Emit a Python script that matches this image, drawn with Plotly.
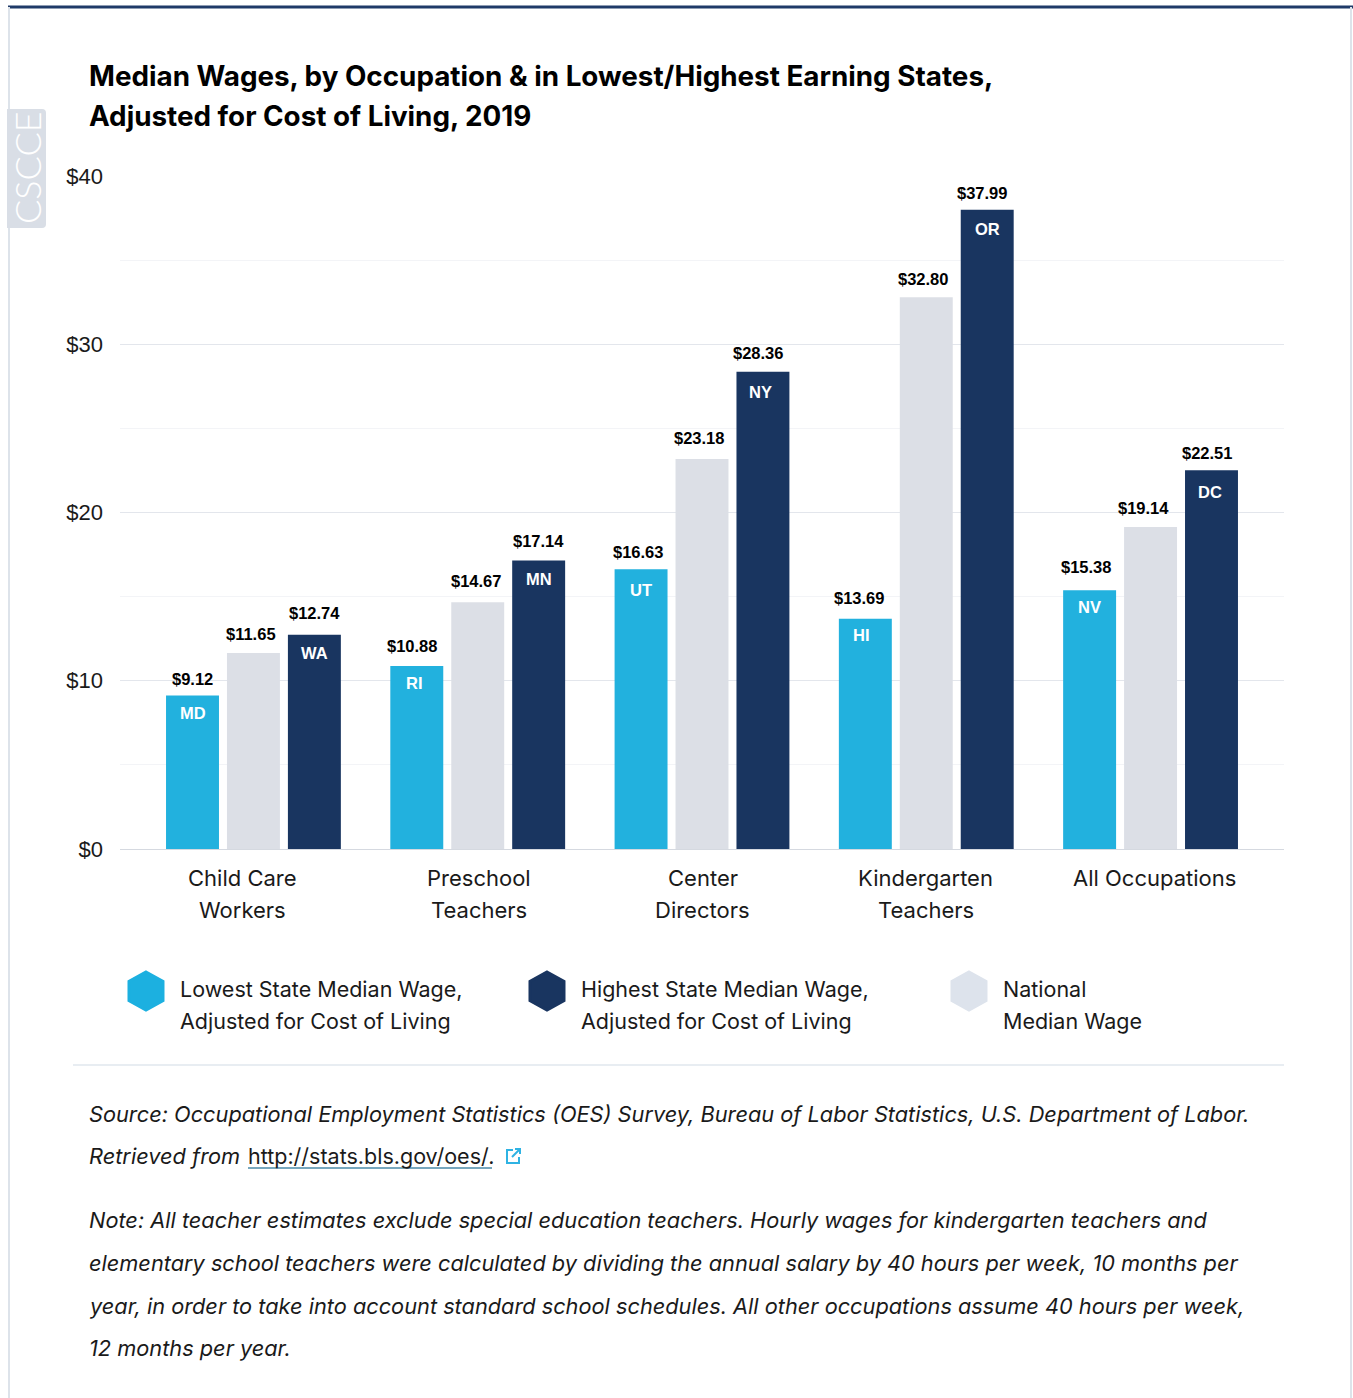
import plotly.graph_objects as go

W, H = 1353, 1398

# data
categories = ["Child Care<br>Workers", "Preschool<br>Teachers", "Center<br>Directors",
              "Kindergarten<br>Teachers", "All Occupations"]
lowest = [9.12, 10.88, 16.63, 13.69, 15.38]
national = [11.65, 14.67, 23.18, 32.80, 19.14]
highest = [12.74, 17.14, 28.36, 37.99, 22.51]
lowest_states = ["MD", "RI", "UT", "HI", "NV"]
highest_states = ["WA", "MN", "NY", "OR", "DC"]
y_ticks = [0, 10, 20, 30, 40]
y_tick_labels = ["$0", "$10", "$20", "$30", "$40"]

TITLE = ["Median Wages, by Occupation & in Lowest/Highest Earning States,",
         "Adjusted for Cost of Living, 2019"]
SOURCE = ["Source: Occupational Employment Statistics (OES) Survey, Bureau of Labor Statistics, U.S. Department of Labor.",
          "Retrieved from"]
NOTE = ["Note: All teacher estimates exclude special education teachers. Hourly wages for kindergarten teachers and",
        "elementary school teachers were calculated by dividing the annual salary by 40 hours per week, 10 months per",
        "year, in order to take into account standard school schedules. All other occupations assume 40 hours per week,",
        "12 months per year."]

CYAN, NAVY, GREY = "#22b1de", "#193560", "#dcdfe6"
TEXT_FONT = "Inter"
NUM_FONT = "Liberation Sans"

# hand nudges (px) so labels sit where the original's do
lowest_dx = [0, -4.5, -3.5, -6.5, -3.5]
national_dx = [-2.5, -2, -3.5, -3, -7]
highest_dx = [0, 0, -5, -5.5, -4.5]
lowest_dy = [17, 20, 17, 21, 23]
national_dy = [19, 21, 21, 18, 19]
highest_dy = [22, 20, 19, 17, 17]
low_state_dx = [0, -2, 0, -3.5, 0]
low_state_dy = [17, 17, 21, 16, 17]
high_state_dx = [0, 0, -2.5, 0, -1.5]
high_state_dy = [18, 18, 20, 19, 22]
cat_dx = [-11, 1, 0.5, -0.5, 3.5]

# plot area in page pixels
PLOT_L, PLOT_R, PLOT_T, PLOT_B = 120, 1284, 176, 849
SLOT = 61 / 224.5  # distance between neighbouring bars, in category units


def px(x):
    return x / W


def py(y):
    return 1 - y / H


def page_text(x, y, text, size, color="#1a1a1a", family=TEXT_FONT, weight="normal", style="normal", **kw):
    return dict(xref="paper", yref="paper", x=px(x), y=py(y), text=text, showarrow=False,
                xanchor=kw.pop("xanchor", "left"), yanchor="middle", borderpad=0, borderwidth=0,
                font=dict(family=family, size=size, color=color, weight=weight, style=style), **kw)


def hexagon(cx, cy, color):
    rx, ry = 17, 19
    pts = [(cx, cy - ry), (cx + rx, cy - ry / 2), (cx + rx, cy + ry / 2),
           (cx, cy + ry), (cx - rx, cy + ry / 2), (cx - rx, cy - ry / 2)]
    path = "M " + " L ".join(f"{px(a):.5f},{py(b):.5f}" for a, b in pts) + " Z"
    return dict(type="path", xref="paper", yref="paper", path=path, fillcolor=color,
                line=dict(color=color, width=3), layer="above")


def page_line(x0, y0, x1, y1, color, width):
    return dict(type="line", xref="paper", yref="paper", x0=px(x0), y0=py(y0), x1=px(x1), y1=py(y1),
                line=dict(color=color, width=width))


def side_tab(x0, y0, x1, y1, r, color):
    p = lambda a, b: f"{px(a):.5f},{py(b):.5f}"
    path = (f"M {p(x0, y0)} L {p(x1 - r, y0)} Q {p(x1, y0)} {p(x1, y0 + r)} "
            f"L {p(x1, y1 - r)} Q {p(x1, y1)} {p(x1 - r, y1)} L {p(x0, y1)} Z")
    return dict(type="path", xref="paper", yref="paper", path=path, fillcolor=color, line_width=0)


fig = go.Figure()
xs = list(range(len(categories)))
for name, vals, color in [("Lowest", lowest, CYAN), ("National", national, GREY), ("Highest", highest, NAVY)]:
    fig.add_trace(go.Bar(x=xs, y=vals, name=name, marker=dict(color=color, line_width=0),
                         hovertemplate="$%{y:.2f}<extra>" + name + "</extra>"))

annotations = []

# value labels above the bars, state codes inside them
for series, offset, dxs, dys in [(lowest, -SLOT, lowest_dx, lowest_dy),
                                 (national, 0, national_dx, national_dy),
                                 (highest, SLOT, highest_dx, highest_dy)]:
    for i, v in enumerate(series):
        annotations.append(dict(x=i + offset, y=v, text=f"${v:.2f}", showarrow=False, xanchor="center",
                                yanchor="middle", xshift=dxs[i], yshift=dys[i],
                                font=dict(family=NUM_FONT, size=16.5, color="#000000", weight="bold")))
for series, states, offset, dxs, dys in [(lowest, lowest_states, -SLOT, low_state_dx, low_state_dy),
                                         (highest, highest_states, SLOT, high_state_dx, high_state_dy)]:
    for i, v in enumerate(series):
        annotations.append(dict(x=i + offset, y=v, text=states[i], showarrow=False, xanchor="center",
                                yanchor="middle", xshift=dxs[i], yshift=-dys[i],
                                font=dict(family=NUM_FONT, size=16.5, color="#ffffff", weight="bold")))

# category labels, one annotation per line to get the original line spacing
for i, cat in enumerate(categories):
    for line, y in zip(cat.split("<br>"), [878, 910]):
        annotations.append(dict(x=i, xref="x", yref="paper", y=py(y), text=line, showarrow=False, xanchor="center",
                                yanchor="middle", xshift=cat_dx[i],
                                font=dict(family=TEXT_FONT, size=22, color="#1a1a1a")))

# title
annotations.append(page_text(89, 76, TITLE[0], 27.8, "#000000", weight="bold"))
annotations.append(page_text(89, 116, TITLE[1], 27.8, "#000000", weight="bold"))

# legend
for x, a, b in [(180, "Lowest State Median Wage,", "Adjusted for Cost of Living"),
                (581, "Highest State Median Wage,", "Adjusted for Cost of Living"),
                (1003, "National", "Median Wage")]:
    annotations.append(page_text(x, 989, a, 21.5))
    annotations.append(page_text(x, 1021, b, 21.5))

# source and note
annotations.append(page_text(89, 1114, SOURCE[0], 21.75, style="italic"))
annotations.append(page_text(89, 1156, SOURCE[1], 21.75, style="italic"))
annotations.append(page_text(248, 1156, "http://stats.bls.gov/oes/", 21.5))
annotations.append(page_text(489, 1156, ".", 21.75, style="italic"))
for y, line in zip([1220, 1263, 1306, 1348], NOTE):
    annotations.append(page_text(89, y, line, 21.75, style="italic"))

# CSCCE side tab
annotations.append(dict(xref="paper", yref="paper", x=px(27), y=py(168), text="CSCCE", showarrow=False,
                        textangle=-90, xanchor="center", yanchor="middle",
                        font=dict(family="Lato", size=36, color="#ffffff", weight=300)))

shapes = [
    page_line(8, 7, W, 7, "#1f3a68", 3),
    page_line(9, 7, 9, H, "#dde3ea", 2),
    page_line(1351, 7, 1351, H, "#dde3ea", 2),
    side_tab(7, 109, 46, 228, 4, "#d9dee6"),
    hexagon(146, 991, "#1cb0e0"),
    hexagon(547, 991, NAVY),
    hexagon(969, 991, "#dde3ec"),
    page_line(73, 1065, 1284, 1065, "#e8edf2", 2),
    page_line(248, 1168, 492, 1168, "#4a8aa8", 1.5),
    # external link icon
    dict(type="path", xref="paper", yref="paper",
         path=" ".join([f"M {px(513):.5f},{py(1150):.5f}", f"L {px(507):.5f},{py(1150):.5f}",
                        f"L {px(507):.5f},{py(1163):.5f}", f"L {px(519):.5f},{py(1163):.5f}",
                        f"L {px(519):.5f},{py(1157):.5f}",
                        f"M {px(512):.5f},{py(1157):.5f}", f"L {px(520):.5f},{py(1149):.5f}",
                        f"M {px(515):.5f},{py(1149):.5f}", f"L {px(520):.5f},{py(1149):.5f}",
                        f"L {px(520):.5f},{py(1154):.5f}"]),
         line=dict(color="#2fb3e3", width=2)),
]

fig.update_layout(
    width=W, height=H,
    margin=dict(l=0, r=0, t=0, b=0, pad=0, autoexpand=False),
    paper_bgcolor="#ffffff", plot_bgcolor="#ffffff",
    barmode="group", bargap=41.5 / 224.5, bargroupgap=8 / 61,
    showlegend=False,
    annotations=annotations, shapes=shapes,
    xaxis=dict(domain=[px(PLOT_L), px(PLOT_R)], range=[-0.595, 4.595], tickvals=xs, showticklabels=False,
               showgrid=False, zeroline=False, showline=False, ticks=""),
    yaxis=dict(domain=[py(PLOT_B), py(PLOT_T)], range=[0, 40], tickvals=y_ticks, ticktext=y_tick_labels,
               tickfont=dict(family=NUM_FONT, size=22, color="#1a1a1a"), ticklabelstandoff=16,
               gridcolor="#e3e6ec", gridwidth=1, zeroline=True, zerolinecolor="#d5d9e0", zerolinewidth=1,
               ticks="", showline=False,
               minor=dict(tickvals=[5, 15, 25, 35], showgrid=True, gridcolor="#f3f4f7", gridwidth=1, ticks="")),
)

# the page's default body margin would push the chart off its pixel positions
fig.write_html("out.html", config={"displayModeBar": False}, post_script="document.body.style.margin='0';")
